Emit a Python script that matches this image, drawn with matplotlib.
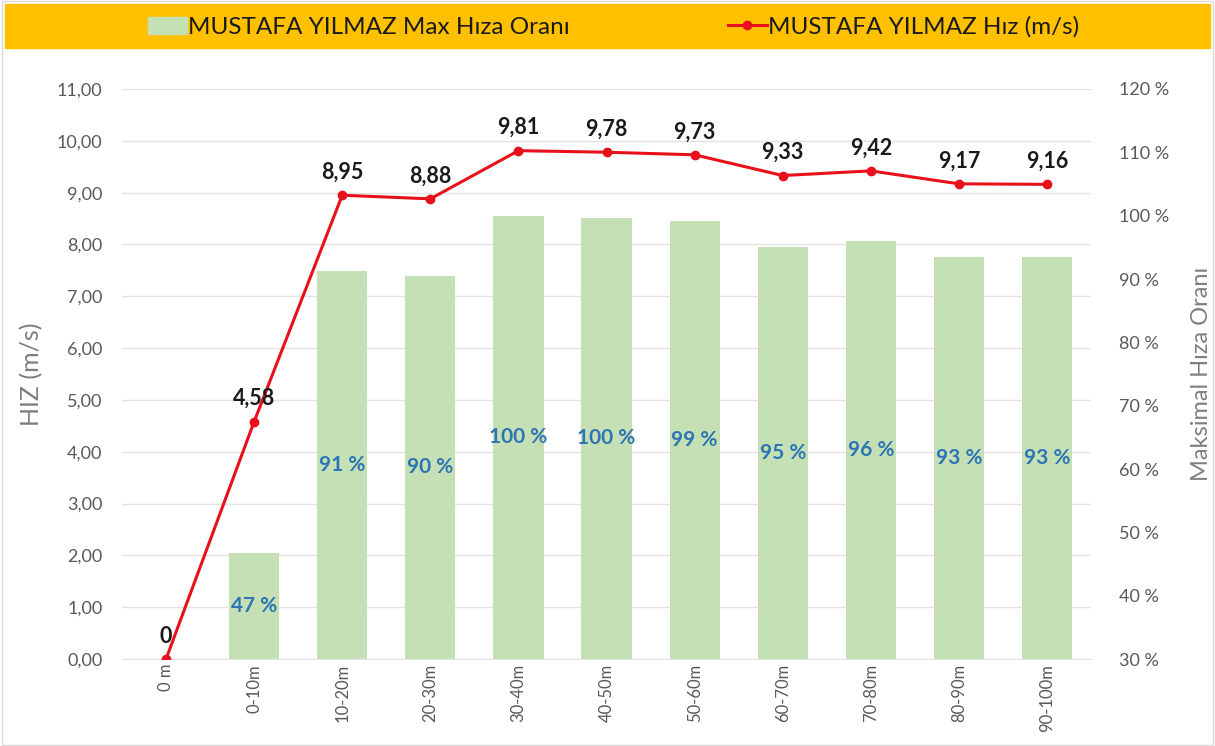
import matplotlib.pyplot as plt
from matplotlib.patches import Rectangle
from matplotlib.lines import Line2D
import numpy as np

plt.rcParams['font.family'] = ['Lato', 'DejaVu Sans']

# data
categories = ["0 m", "0-10m", "10-20m", "20-30m", "30-40m", "40-50m",
              "50-60m", "60-70m", "70-80m", "80-90m", "90-100m"]
speed = [0, 4.58, 8.95, 8.88, 9.81, 9.78, 9.73, 9.33, 9.42, 9.17, 9.16]
ratio = [np.nan, 46.7, 91.2, 90.5, 100.0, 99.7, 99.2, 95.1, 96.0, 93.4, 93.4]

speed_label = "MUSTAFA YILMAZ Hız (m/s)"
ratio_label = "MUSTAFA YILMAZ Max Hıza Oranı"

bar_color = "#C5E0B4"
line_color = "#E8101A"
pct_color = "#2E75B6"
tick_color = "#595959"

fig = plt.figure(figsize=(12.15, 7.46), dpi=100)
ax = fig.add_axes([0.1004, 0.1166, 0.7976, 0.7641])
ax2 = ax.twinx()

x = np.arange(len(categories))

# bars on the right axis (percent)
ax2.bar(x, ratio, width=0.57, bottom=0, color=bar_color, zorder=1)
for xi, r in zip(x, ratio):
    if np.isnan(r):
        continue
    ax2.text(xi, (30 + r) / 2, f"{r:.0f} %", ha="center", va="center",
             color=pct_color, fontsize=15, fontweight="bold", zorder=3)
ax2.set_ylim(30, 120)
ax2.set_yticks(np.arange(30, 121, 10))
ax2.set_yticklabels([f"{v} %" for v in range(30, 121, 10)])
ax2.set_ylabel("Maksimal Hıza Oranı", fontsize=17, color="#7F7F7F", labelpad=16)

# line on the left axis
ax.set_zorder(ax2.get_zorder() + 1)
ax.patch.set_visible(False)
ax.plot(x, speed, color=line_color, lw=2.2, marker="o", ms=6,
        markerfacecolor=line_color, zorder=4)
for xi, s in zip(x, speed):
    lbl = "0" if s == 0 else f"{s:.2f}".replace(".", ",")
    ax.annotate(lbl, (xi, s), xytext=(0, 9), textcoords="offset points",
                ha="center", va="bottom", fontsize=15.5, fontweight="bold",
                color="#1A1A1A", zorder=5)
ax.set_ylim(0, 11)
ax.set_yticks(np.arange(0, 12, 1))
ax.set_yticklabels([f"{v},00" for v in range(0, 12)])
ax.set_ylabel("HIZ (m/s)", fontsize=18, color="#7F7F7F", labelpad=10)
ax.set_xlim(-0.5, len(categories) - 0.5)
ax.set_xticks(x)
ax.set_xticklabels(categories, rotation=90)

# gridlines drawn on the bar axis so they sit behind bars
for v in range(0, 12):
    ax2.axhline(30 + v * 90 / 11, color="#E3E3E3", lw=1, zorder=0)

for a in (ax, ax2):
    for sp in a.spines.values():
        sp.set_visible(False)
    a.tick_params(length=0, colors=tick_color, labelsize=13)
ax.tick_params(axis="x", labelsize=12)
ax.tick_params(axis="y", pad=14)
ax2.tick_params(axis="y", pad=20)
ax.spines["bottom"].set_visible(True)
ax.spines["bottom"].set_color("#E3E3E3")

# legend band
fig.patches.append(Rectangle((0.004, 0.936), 0.992, 0.058, transform=fig.transFigure,
                             color="#FFC000", zorder=0))
fig.patches.append(Rectangle((0.002, 0.002), 0.996, 0.996, transform=fig.transFigure,
                             fill=False, ec="#D9D9D9", lw=1))
handles = [Rectangle((0, 0), 1, 1, color=bar_color),
           Line2D([0], [0], color=line_color, lw=2.2, marker="o", ms=6)]
fig.legend(handles, [ratio_label, speed_label], loc="center",
           bbox_to_anchor=(0.505, 0.964), ncol=2, frameon=False, fontsize=17.5,
           handlelength=1.6, handletextpad=0.05, columnspacing=6.5,
           labelcolor="#1A1A1A")

fig.savefig("out.png", dpi=100)
